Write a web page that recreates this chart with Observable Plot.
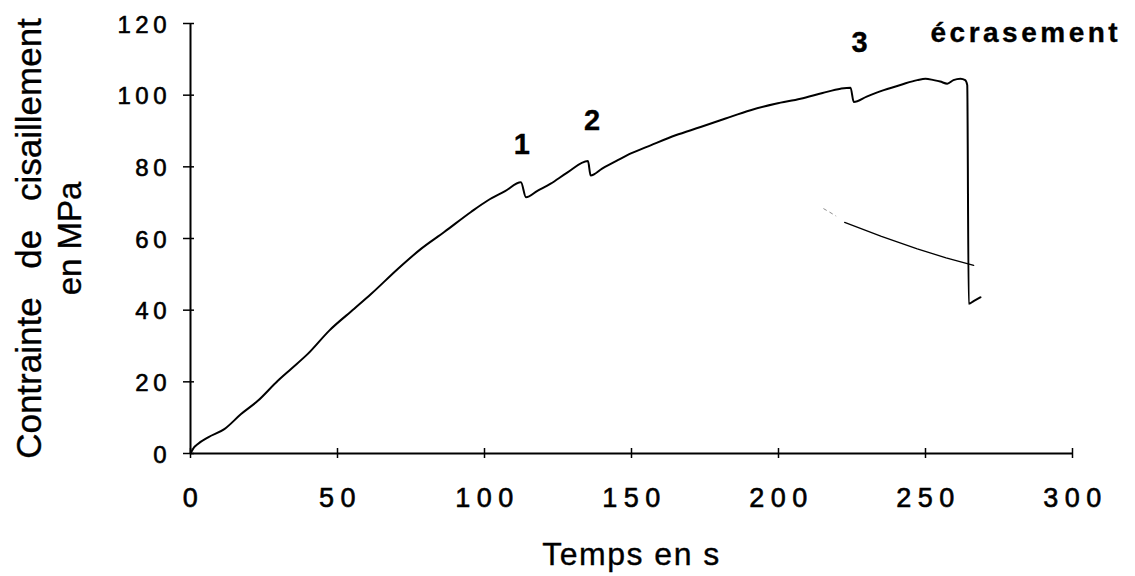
<!DOCTYPE html>
<html>
<head>
<meta charset="utf-8">
<script src="https://cdn.jsdelivr.net/npm/d3@7"></script>
<script src="https://cdn.jsdelivr.net/npm/@observablehq/plot@0.6"></script>
<style>
  body { margin: 0; background: #fff; }
  svg text { stroke: #000; stroke-width: 0.35px; }
  g[aria-label="y-axis tick label"] text { letter-spacing: 4.5px; font-size: 24px; stroke-width: 0.6px; }
  g[aria-label="x-axis tick label"] text { letter-spacing: 6.5px; font-size: 27px; stroke-width: 0.6px; }
</style>
</head>
<body>
<div id="chart"></div>
<script>
// Main test curve: time (s) vs shear stress (MPa)
const timeS = [0, 1.2, 2.4, 6, 11.5, 17.2, 22.9, 29.7, 34.2, 39.9, 47.2, 55.7, 61.4, 70.5, 78.4, 86.3, 95.4, 101.1, 107, 112.4,
  114.1, 118, 122.5, 128, 135.2,
  136.1, 140, 145.2, 150, 156.5, 165, 173.5, 182, 190.5, 199, 207.5, 215, 221.1, 224.5,
  225.6, 230, 235.8, 242, 247.2, 250, 252.8, 255, 257.4, 259.5, 261.9, 263.5, 264.2,
  264.7, 266.5, 268.7];
const stressMPa = [0, 1.7, 2.6, 4.5, 6.8, 11, 14.7, 20.3, 23.6, 27.8, 34.3, 40.4, 44.5, 51.5, 57.1, 61.8, 67.4, 70.6, 73.2, 75.7,
  71.5, 73.3, 75.3, 78.3, 81.6,
  77.6, 79.5, 81.8, 83.8, 86, 88.8, 91.1, 93.5, 95.8, 97.6, 99, 100.6, 101.8, 102.1,
  98.1, 99.6, 101.4, 103, 104.2, 104.6, 104.2, 103.8, 103.2, 104.2, 104.6, 104.2, 102.8,
  41.8, 42.6, 43.6];

// Secondary thin trace
const traceFaintT = [215.4, 217.5, 219.5];
const traceFaintS = [68.3, 67.3, 66.3];
const traceT = [222.5, 235, 247.2, 257, 266.4];
const traceS = [64.5, 60.6, 57.1, 54.6, 52.5];

// Axis ticks
const xTicks = [0, 50, 100, 150, 200, 250, 300];
const yTicks = [0, 20, 40, 60, 80, 100, 120];

// Annotations
const peakLabels = ["1", "2", "3"];
const peakLabelT = [112.7, 136.6, 227.6];
const peakLabelS = [83.5, 90.2, 112];
const crushLabel = "écrasement";
const crushT = 251.7;
const crushS = 114.8;

const xTitle = "Temps en s";
const yTitle1 = "Contrainte de cisaillement";
const yTitle2 = "en MPa";

const rows = timeS.map((t, i) => ({t, s: stressMPa[i]}));
const faintRows = traceFaintT.map((t, i) => ({t, s: traceFaintS[i]}));
const traceRows = traceT.map((t, i) => ({t, s: traceS[i]}));
const peakRows = peakLabels.map((l, i) => ({l, t: peakLabelT[i], s: peakLabelS[i]}));

const chart = Plot.plot({
  width: 1135,
  height: 576,
  marginLeft: 190,
  marginRight: 63,
  marginTop: 23,
  marginBottom: 123,
  style: {fontFamily: "'Liberation Sans', Arial, Helvetica, sans-serif", color: "#000", background: "#fff", overflow: "visible"},
  x: {domain: [0, 300]},
  y: {domain: [0, 120]},
  marks: [
    Plot.ruleY([0], {stroke: "#000", strokeWidth: 2.2}),
    Plot.ruleX([0], {stroke: "#000", strokeWidth: 2}),
    Plot.ruleX(xTicks, {x: d => d, y1: 0, y2: 0, insetTop: -5, insetBottom: -5, stroke: "#000", strokeWidth: 1.5}),
    Plot.ruleY(yTicks, {y: d => d, x1: 0, x2: 0, insetLeft: -7, insetRight: -4, stroke: "#000", strokeWidth: 1.5}),
    Plot.axisX(xTicks, {tickSize: 0, tickPadding: 34, fontSize: 27, dx: 3, label: null}),
    Plot.axisY(yTicks, {tickSize: 0, tickPadding: 19.5, fontSize: 24, dy: 1.5, label: null}),
    Plot.line(faintRows, {x: "t", y: "s", stroke: "#000", strokeWidth: 1, strokeOpacity: 0.45, strokeDasharray: "3,4"}),
    Plot.line(traceRows, {x: "t", y: "s", stroke: "#000", strokeWidth: 1.3}),
    Plot.line(rows, {x: "t", y: "s", stroke: "#000", strokeWidth: 2, curve: "monotone-x"}),
    Plot.text(peakRows, {x: "t", y: "s", text: "l", fontSize: 29, fontWeight: "bold", lineAnchor: "bottom"}),
    Plot.text([crushLabel], {x: () => crushT, y: () => crushS, text: d => d, textAnchor: "start", lineAnchor: "bottom", fontSize: 28, fontWeight: "bold"}),
    Plot.text([xTitle], {frameAnchor: "bottom", dy: 111, lineAnchor: "bottom", fontSize: 32}),
    Plot.text([yTitle1], {frameAnchor: "left", rotate: -90, textAnchor: "middle", lineAnchor: "bottom", dx: -150, fontSize: 35}),
    Plot.text([yTitle2], {frameAnchor: "left", rotate: -90, textAnchor: "middle", lineAnchor: "bottom", dx: -110, fontSize: 33})
  ]
});
document.getElementById("chart").appendChild(chart);

const byText = s => d3.select(chart).selectAll("text").filter(function () { return this.textContent === s; });
byText(yTitle1).style("word-spacing", "19px");
byText(xTitle).style("letter-spacing", "1.5px");
byText(crushLabel).style("letter-spacing", "3.5px");
</script>
</body>
</html>
